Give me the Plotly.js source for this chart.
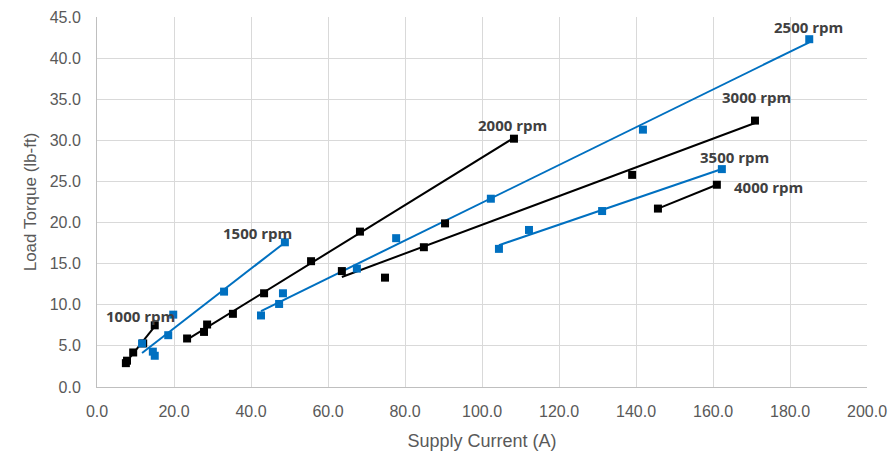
<!DOCTYPE html>
<html>
<head>
<meta charset="utf-8">
<script src="https://cdn.plot.ly/plotly-3.0.1.min.js"></script>
<style>html,body{margin:0;padding:0;background:#fff;}#chart{width:894px;height:455px;}</style>
</head>
<body>
<div id="chart"></div>
<script>
// Data (Supply Current A, Load Torque lb-ft)
const rpm1000_x = [7.5, 7.8, 9.4, 12.0, 15.0];
const rpm1000_y = [2.9, 3.2, 4.2, 5.3, 7.5];
const rpm1500_x = [11.7, 14.5, 15.0, 18.5, 19.8, 33.0, 48.8];
const rpm1500_y = [5.3, 4.3, 3.8, 6.3, 8.8, 11.6, 17.6];
const rpm2000_x = [23.4, 27.8, 28.6, 35.3, 43.4, 55.6, 68.3, 108.3];
const rpm2000_y = [5.9, 6.7, 7.6, 8.9, 11.4, 15.3, 18.9, 30.2];
const rpm2500_x = [42.6, 47.3, 48.3, 67.5, 77.7, 102.3, 141.8, 185.0];
const rpm2500_y = [8.7, 10.1, 11.4, 14.4, 18.1, 22.9, 31.3, 42.3];
const rpm3000_x = [63.6, 74.8, 84.9, 90.4, 139.0, 170.9];
const rpm3000_y = [14.1, 13.3, 17.0, 19.9, 25.8, 32.4];
const rpm3500_x = [104.4, 112.2, 131.2, 162.3];
const rpm3500_y = [16.8, 19.1, 21.4, 26.5];
const rpm4000_x = [145.7, 161.0];
const rpm4000_y = [21.7, 24.6];
const seriesLabels = ["1000 rpm", "1500 rpm", "2000 rpm", "2500 rpm", "3000 rpm", "3500 rpm", "4000 rpm"];
const labelX = [11.2, 41.6, 108.0, 184.7, 171.2, 165.7, 174.3];
const labelY = [8.6, 18.7, 31.9, 43.8, 35.3, 28.0, 24.3];

const BLUE = "#0070C0", BLACK = "#000000";
const series = [
  [rpm1000_x, rpm1000_y, BLACK],
  [rpm1500_x, rpm1500_y, BLUE],
  [rpm2000_x, rpm2000_y, BLACK],
  [rpm2500_x, rpm2500_y, BLUE],
  [rpm3000_x, rpm3000_y, BLACK],
  [rpm3500_x, rpm3500_y, BLUE],
  [rpm4000_x, rpm4000_y, BLACK]
];

function linfit(xs, ys) {
  const n = xs.length;
  const mx = xs.reduce((a,b)=>a+b,0)/n, my = ys.reduce((a,b)=>a+b,0)/n;
  let sxy=0, sxx=0;
  for (let i=0;i<n;i++){ sxy+=(xs[i]-mx)*(ys[i]-my); sxx+=(xs[i]-mx)*(xs[i]-mx); }
  const m = sxy/sxx, b = my - m*mx;
  const x0 = Math.min(...xs), x1 = Math.max(...xs);
  return {x:[x0,x1], y:[m*x0+b, m*x1+b]};
}

const traces = [];
series.forEach((s,i) => {
  const f = linfit(s[0], s[1]);
  traces.push({x:f.x, y:f.y, mode:"lines", type:"scatter", line:{color:s[2], width:2}, hoverinfo:"skip", showlegend:false});
});
series.forEach((s,i) => {
  traces.push({x:s[0], y:s[1], mode:"markers", type:"scatter", name:seriesLabels[i],
    marker:{symbol:"square", size:8, color:s[2]}, showlegend:false});
});

const annotations = seriesLabels.map((t,i)=>({
  x: labelX[i], y: labelY[i], xref:"x", yref:"y", text:"<b>"+t+"</b>", showarrow:false,
  font:{family:"Open Sans, Liberation Sans, sans-serif", size:15, color:"#404040"}
}));

const FAM = "Liberation Sans, Arial, sans-serif";
const tickFont = {family:FAM, size:16, color:"#595959"};
const layout = {
  width:894, height:455,
  margin:{l:97, r:27, t:17, b:68},
  paper_bgcolor:"#fff", plot_bgcolor:"#fff",
  showlegend:false,
  xaxis:{range:[0,200], dtick:20, tick0:0, tickformat:".1f", showgrid:true, gridcolor:"#d9d9d9", gridwidth:1,
    zeroline:false, showline:true, linecolor:"#bfbfbf", ticks:"", tickfont:tickFont, ticklabelstandoff:10, automargin:false,
    title:{text:"Supply Current (A)", font:{family:FAM, size:18, color:"#595959"}, standoff:15}},
  yaxis:{range:[0,45], dtick:5, tick0:0, tickformat:".1f", showgrid:true, gridcolor:"#d9d9d9", gridwidth:1,
    zeroline:false, showline:true, linecolor:"#bfbfbf", ticks:"", tickfont:tickFont, ticklabelstandoff:12, automargin:false,
    title:{text:"Load Torque (lb-ft)", font:{family:FAM, size:17, color:"#595959"}, standoff:8}},
  annotations: annotations
};
Plotly.newPlot("chart", traces, layout, {displayModeBar:false, staticPlot:true});
</script>
</body>
</html>
